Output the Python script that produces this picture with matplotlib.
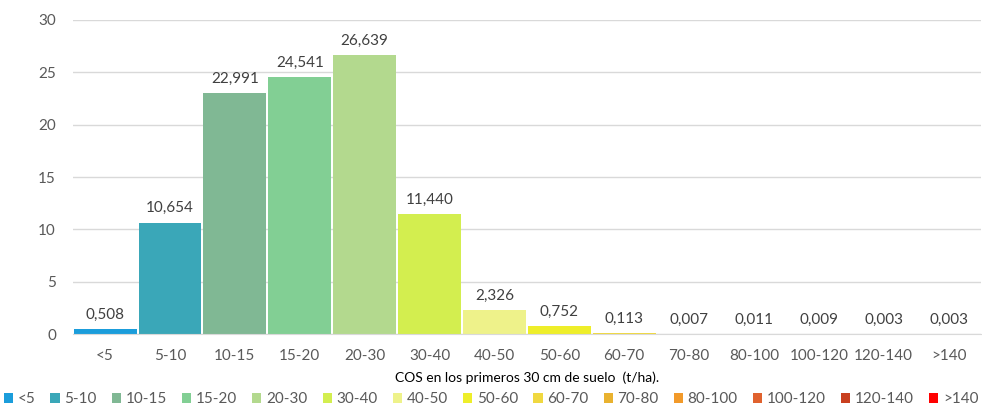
import numpy as np
import matplotlib.pyplot as plt
from matplotlib.patches import Patch

plt.rcParams['font.family'] = ['Lato', 'DejaVu Sans']

categories = ['<5', '5-10', '10-15', '15-20', '20-30', '30-40', '40-50', '50-60',
              '60-70', '70-80', '80-100', '100-120', '120-140', '>140']
values = [0.508, 10.654, 22.991, 24.541, 26.639, 11.440, 2.326, 0.752,
          0.113, 0.007, 0.011, 0.009, 0.003, 0.003]
colors = ['#1b9ddb', '#3aa7b8', '#80b894', '#82cf94', '#b3d98e', '#d3ee4f',
          '#eef28a', '#eeee2a', '#f0d840', '#e9b22f', '#f29a2a', '#e0622e',
          '#c9401f', '#ff0000']
gray = '#595959'

fig = plt.figure(figsize=(9.82, 4.07), dpi=100)
ax = fig.add_axes([0.074, 0.179, 0.925, 0.772])

x = np.arange(len(categories))
ax.bar(x, values, width=0.97, color=colors, zorder=2)
for xi, v in zip(x, values):
    ax.text(xi, v + 0.7, f'{v:.3f}'.replace('.', ','), ha='center', va='bottom',
            fontsize=11, color='#404040')

ax.set_xlim(-0.5, len(categories) - 0.5)
ax.set_ylim(0, 30)
ax.set_yticks(range(0, 31, 5))
ax.grid(axis='y', color='#d9d9d9', linewidth=1, zorder=0)
ax.set_xticks(x)
ax.set_xticklabels(categories)
ax.tick_params(axis='both', length=0, labelsize=11, colors=gray, pad=11)
ax.tick_params(axis='y', pad=12)
for s in ['top', 'right', 'left']:
    ax.spines[s].set_visible(False)
ax.spines['bottom'].set_color('#d9d9d9')
ax.set_xlabel('COS en los primeros 30 cm de suelo  (t/ha).', fontsize=10,
              color='black', labelpad=6)

handles = [Patch(facecolor=c, label=l) for c, l in zip(colors, categories)]
fig.legend(handles=handles, loc='lower center', bbox_to_anchor=(0.5, -0.025),
           ncol=14, frameon=False, fontsize=11, handlelength=0.6,
           handleheight=0.6, handletextpad=0.3, columnspacing=1.0,
           labelcolor=gray, borderpad=0.2)

fig.savefig('out.png', dpi=100)
